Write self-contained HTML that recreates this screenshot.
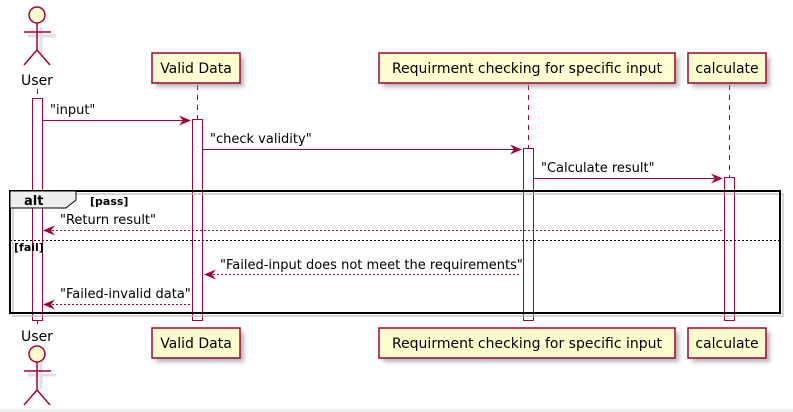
<!DOCTYPE html>
<html><head><style>body{margin:0;background:#fff}svg{display:block}</style></head><body>
<svg width="793" height="412" xmlns="http://www.w3.org/2000/svg" font-family="'DejaVu Sans', 'Liberation Sans', sans-serif">
<defs><filter id="sh" x="-20%" y="-20%" width="150%" height="150%"><feGaussianBlur stdDeviation="2"/></filter></defs>
<rect x="0" y="409" width="793" height="3" fill="#f0f0f2"/>
<g stroke="#A80036" stroke-dasharray="5,5" stroke-width="1" shape-rendering="crispEdges">
<line x1="37.5" y1="89" x2="37.5" y2="325"/><line x1="197.5" y1="85" x2="197.5" y2="325"/>
<line x1="528.5" y1="85" x2="528.5" y2="325"/><line x1="729.5" y1="85" x2="729.5" y2="325"/>
</g>
<g fill="none" stroke="#ccc" stroke-width="3" opacity="0.6">
<line x1="41" y1="27" x2="41" y2="54"/><line x1="28" y1="36" x2="56" y2="36"/>
<line x1="41" y1="361" x2="41" y2="389"/><line x1="28" y1="375" x2="56" y2="375"/>
</g>
<g stroke="#A80036" stroke-width="1.5" fill="none">
<circle cx="37" cy="15" r="8" fill="#FEFECE"/><line x1="37" y1="23" x2="37" y2="50"/><line x1="24" y1="32" x2="51" y2="32"/><polyline points="24,65 37,50 50,65"/>
<circle cx="37" cy="354" r="8" fill="#FEFECE"/><line x1="37" y1="362" x2="37" y2="390"/><line x1="24" y1="371" x2="51" y2="371"/><polyline points="24,405 37,390 50,405"/>
</g>
<g font-size="14" fill="#000" text-anchor="middle">
<text x="37" y="85">User</text><text x="37" y="341">User</text>
</g>
<g fill="#999" filter="url(#sh)" opacity="0.7">
<rect x="156" y="57" width="88" height="30"/><rect x="383" y="57" width="296" height="30"/><rect x="692" y="57" width="78" height="30"/>
<rect x="156" y="332" width="88" height="30"/><rect x="383" y="332" width="296" height="30"/><rect x="692" y="332" width="78" height="30"/>
</g>
<g fill="#FEFECE" stroke="#A80036" stroke-width="1.5">
<rect x="152" y="53" width="88" height="30"/><rect x="379" y="53" width="296" height="30"/><rect x="688" y="53" width="78" height="30"/>
<rect x="152" y="328" width="88" height="30"/><rect x="379" y="328" width="296" height="30"/><rect x="688" y="328" width="78" height="30"/>
</g>
<g font-size="14" fill="#000" text-anchor="middle">
<text x="196" y="73">Valid Data</text><text x="527" y="73">Requirment checking for specific input</text><text x="727" y="73">calculate</text>
<text x="196" y="348">Valid Data</text><text x="527" y="348">Requirment checking for specific input</text><text x="727" y="348">calculate</text>
</g>
<g fill="#fff" stroke="#A80036" stroke-width="1" shape-rendering="crispEdges">
<rect x="32.5" y="98.5" width="10" height="222"/><rect x="192.5" y="119.5" width="10" height="201"/>
<rect x="523.5" y="148.5" width="10" height="172"/><rect x="724.5" y="177.5" width="10" height="143"/>
</g>
<rect x="13" y="194" width="770" height="122" fill="none" stroke="#bbb" stroke-width="2" opacity="0.6"/>
<rect x="10" y="191" width="770" height="122" fill="none" stroke="#000" stroke-width="2"/>
<path d="M10,191 H76 V200 L66,208 H10 Z" fill="#EEEEEE" stroke="#000" stroke-width="1"/>
<text x="24" y="205" font-size="13" font-weight="bold">alt</text>
<text x="90" y="205" font-size="11" font-weight="bold">[pass]</text>
<line x1="10" y1="240.5" x2="780" y2="240.5" stroke="#000" stroke-width="1" stroke-dasharray="2,2"/>
<text x="14" y="251" font-size="11" font-weight="bold">[fail]</text>
<g stroke="#A80036" stroke-width="1" fill="none" shape-rendering="crispEdges">
<line x1="43" y1="120.5" x2="190" y2="120.5"/>
<line x1="203" y1="149.5" x2="521" y2="149.5"/>
<line x1="534" y1="178.5" x2="722" y2="178.5"/>
<line x1="44" y1="230.5" x2="723" y2="230.5" stroke-dasharray="2,2"/>
<line x1="205" y1="274.5" x2="521" y2="274.5" stroke-dasharray="2,2"/>
<line x1="44" y1="304.5" x2="191" y2="304.5" stroke-dasharray="2,2"/>
</g>
<g fill="#A80036">
<polygon points="191,120.5 179,115.5 183,120.5 179,125.5"/>
<polygon points="522,149.5 510,144.5 514,149.5 510,154.5"/>
<polygon points="723,178.5 711,173.5 715,178.5 711,183.5"/>
<polygon points="43,230.5 55,225.5 51,230.5 55,235.5"/>
<polygon points="204,274.5 216,269.5 212,274.5 216,279.5"/>
<polygon points="43,304.5 55,299.5 51,304.5 55,309.5"/>
</g>
<g font-size="13" fill="#000">
<text x="50" y="114">"input"</text>
<text x="210" y="143">"check validity"</text>
<text x="541" y="172">"Calculate result"</text>
<text x="60" y="224">"Return result"</text>
<text x="220" y="269">"Failed-input does not meet the requirements"</text>
<text x="60" y="298">"Failed-invalid data"</text>
</g>
</svg>
</body></html>
